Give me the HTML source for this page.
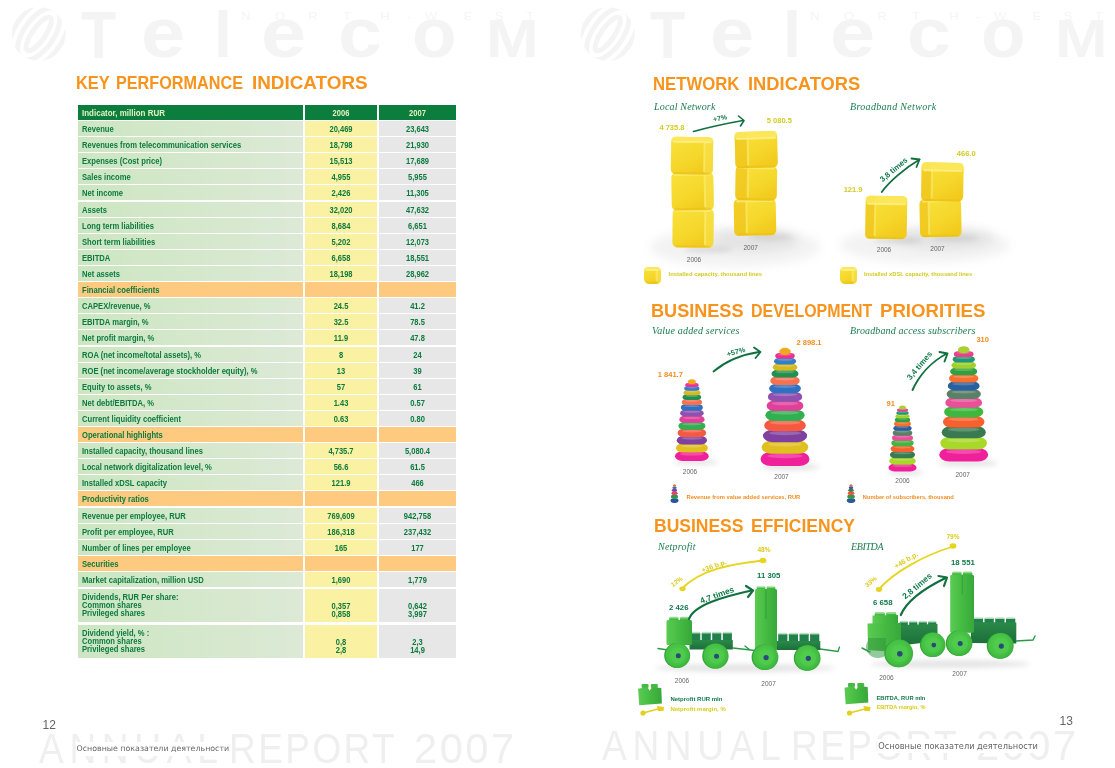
<!DOCTYPE html>
<html lang="en"><head><meta charset="utf-8"><title>Key Performance Indicators</title>
<style>
html,body{margin:0;padding:0;background:#fff;}
body{width:1115px;height:768px;position:relative;overflow:hidden;font-family:"Liberation Sans","DejaVu Sans",sans-serif;}
.abs{position:absolute;white-space:nowrap;line-height:1;}
.wm{position:absolute;color:#f4f4f4;font-weight:bold;white-space:nowrap;transform-origin:0 0;}
.wms{position:absolute;color:#f5f5f5;font-size:10.3px;line-height:10.3px;top:11.9px;white-space:nowrap;transform:scaleX(1.25);}
.ar{position:absolute;color:#efefef;font-size:43px;line-height:43px;white-space:nowrap;transform-origin:0 0;}
.ttl{position:absolute;color:#f7941d;font-weight:bold;font-size:19px;line-height:20px;white-space:nowrap;transform-origin:0 0;}
.sub{position:absolute;color:#1b7d4f;font-style:italic;font-size:10px;line-height:12px;white-space:nowrap;font-family:"Liberation Serif","DejaVu Serif",serif;transform-origin:0 0;}
.row{position:absolute;left:78px;width:378px;}
.c{position:absolute;top:0;bottom:0;font-weight:bold;font-size:8.2px;color:#0b7a3e;white-space:nowrap;}
.c1{left:0;width:225px;background:linear-gradient(90deg,#cde6c2 0%,#d5e8cc 55%,#dce9d6 100%);}
.c2{left:227px;width:72px;background:#fbf1a2;text-align:center;}
.c3{left:301px;width:77px;background:#e7e7e7;text-align:center;}
.c1 span{position:absolute;left:4px;transform:scaleX(0.93);transform-origin:0 50%;}
.hd .c1 span{transform:scaleX(0.975);}
.hd .c{background:#0b7d3c;color:#e6f3c4;}
.sec .c{background:#fdca80;}
.r .c span,.hd .c span,.sec .c span{top:3.5px;line-height:9px;}
.c2 span,.c3 span{position:absolute;left:0;right:0;transform:scaleX(0.92);}
.t .c span{line-height:8px;}
.lbl{position:absolute;white-space:nowrap;font-weight:bold;line-height:1;transform-origin:50% 50%;}
.yr{position:absolute;white-space:nowrap;color:#666;font-size:6.5px;line-height:7px;transform:translateX(-50%);}
.foot{position:absolute;white-space:nowrap;color:#666;font-size:7.6px;line-height:10px;font-family:"DejaVu Sans","Liberation Sans",sans-serif;background:#fff;padding:2px 1px;}
.pn{position:absolute;white-space:nowrap;color:#666;font-size:12px;line-height:12px;}
svg{position:absolute;left:0;top:0;overflow:visible;}
</style></head>
<body>
<div><span class="wm" style="left:81.4px;top:0.7px;font-size:67.3px;line-height:67.3px;transform:scaleX(0.855)">T</span><span class="wm" style="left:140.9px;top:-1.7px;font-size:70.2px;line-height:70.2px;transform:scaleX(1.132)">e</span><span class="wm" style="left:213.6px;top:3.3px;font-size:64.3px;line-height:64.3px;transform:scaleX(1.007)">l</span><span class="wm" style="left:261.4px;top:-1.7px;font-size:70.2px;line-height:70.2px;transform:scaleX(1.158)">e</span><span class="wm" style="left:337.7px;top:-1.7px;font-size:70.2px;line-height:70.2px;transform:scaleX(1.124)">c</span><span class="wm" style="left:412.2px;top:-1.7px;font-size:70.2px;line-height:70.2px;transform:scaleX(1.037)">o</span><span class="wm" style="left:485.5px;top:11.5px;font-size:54.5px;line-height:54.5px;transform:scaleX(1.160)">M</span></div>
<div><span class="wms" style="left:236px;width:20px;text-align:center">N</span><span class="wms" style="left:270px;width:20px;text-align:center">O</span><span class="wms" style="left:302.8px;width:20px;text-align:center">R</span><span class="wms" style="left:337px;width:20px;text-align:center">T</span><span class="wms" style="left:374.5px;width:20px;text-align:center">H</span><span class="wms" style="left:399px;width:20px;text-align:center">-</span><span class="wms" style="left:420.6px;width:20px;text-align:center">W</span><span class="wms" style="left:458.2px;width:20px;text-align:center">E</span><span class="wms" style="left:488.9px;width:20px;text-align:center">S</span><span class="wms" style="left:519.7px;width:20px;text-align:center">T</span></div>
<svg width="1115" height="768"><defs><clipPath id="lc0"><circle cx="0" cy="0" r="27"/></clipPath></defs><g transform="translate(38.7,34)" clip-path="url(#lc0)"><g transform="rotate(35)" fill="none" stroke="#f4f4f4" stroke-width="5"><ellipse rx="6.5" ry="20"/><ellipse rx="15" ry="30"/><ellipse rx="24" ry="41"/><ellipse rx="33" ry="53"/></g></g></svg>
<div><span class="wm" style="left:650.4px;top:0.7px;font-size:67.3px;line-height:67.3px;transform:scaleX(0.855)">T</span><span class="wm" style="left:709.9px;top:-1.7px;font-size:70.2px;line-height:70.2px;transform:scaleX(1.132)">e</span><span class="wm" style="left:782.6px;top:3.3px;font-size:64.3px;line-height:64.3px;transform:scaleX(1.007)">l</span><span class="wm" style="left:830.4px;top:-1.7px;font-size:70.2px;line-height:70.2px;transform:scaleX(1.158)">e</span><span class="wm" style="left:906.7px;top:-1.7px;font-size:70.2px;line-height:70.2px;transform:scaleX(1.124)">c</span><span class="wm" style="left:981.2px;top:-1.7px;font-size:70.2px;line-height:70.2px;transform:scaleX(1.037)">o</span><span class="wm" style="left:1054.5px;top:11.5px;font-size:54.5px;line-height:54.5px;transform:scaleX(1.160)">M</span></div>
<div><span class="wms" style="left:805px;width:20px;text-align:center">N</span><span class="wms" style="left:839px;width:20px;text-align:center">O</span><span class="wms" style="left:871.8px;width:20px;text-align:center">R</span><span class="wms" style="left:906px;width:20px;text-align:center">T</span><span class="wms" style="left:943.5px;width:20px;text-align:center">H</span><span class="wms" style="left:968px;width:20px;text-align:center">-</span><span class="wms" style="left:989.6px;width:20px;text-align:center">W</span><span class="wms" style="left:1027.2px;width:20px;text-align:center">E</span><span class="wms" style="left:1057.9px;width:20px;text-align:center">S</span><span class="wms" style="left:1088.7px;width:20px;text-align:center">T</span></div>
<svg width="1115" height="768"><defs><clipPath id="lc569"><circle cx="0" cy="0" r="27"/></clipPath></defs><g transform="translate(607.7,34)" clip-path="url(#lc569)"><g transform="rotate(35)" fill="none" stroke="#f4f4f4" stroke-width="5"><ellipse rx="6.5" ry="20"/><ellipse rx="15" ry="30"/><ellipse rx="24" ry="41"/><ellipse rx="33" ry="53"/></g></g></svg>
<div><span class="ar" style="left:39.0px;top:727.4px;letter-spacing:6.67px;transform:scaleX(0.86)">ANNUAL</span> <span class="ar" style="left:228.5px;top:727.4px;letter-spacing:2.85px;transform:scaleX(0.86)">REPORT</span> <span class="ar" style="left:413.6px;top:727.4px;letter-spacing:2.51px;transform:scaleX(0.97)">2007</span></div>
<div><span class="ar" style="left:601.7px;top:724.4px;letter-spacing:6.67px;transform:scaleX(0.86)">ANNUAL</span> <span class="ar" style="left:791.2px;top:724.4px;letter-spacing:2.85px;transform:scaleX(0.86)">REPORT</span> <span class="ar" style="left:976.3px;top:724.4px;letter-spacing:2.51px;transform:scaleX(0.97)">2007</span></div>
<div id="t1"><span class="ttl" style="left:76.0px;top:72.7px;transform:scaleX(0.865)">KEY</span> <span class="ttl" style="left:116.4px;top:72.7px;transform:scaleX(0.853)">PERFORMANCE</span> <span class="ttl" style="left:252.4px;top:72.7px;transform:scaleX(0.993)">INDICATORS</span></div>
<div class="row hd" style="top:105px;height:15px"><div class="c c1"><span>Indicator, million RUR</span></div><div class="c c2"><span>2006</span></div><div class="c c3"><span>2007</span></div></div>
<div class="row r" style="top:121px;height:15px"><div class="c c1"><span>Revenue</span></div><div class="c c2"><span>20,469</span></div><div class="c c3"><span>23,643</span></div></div>
<div class="row r" style="top:137px;height:15px"><div class="c c1"><span>Revenues from telecommunication services</span></div><div class="c c2"><span>18,798</span></div><div class="c c3"><span>21,930</span></div></div>
<div class="row r" style="top:153px;height:15px"><div class="c c1"><span>Expenses (Cost price)</span></div><div class="c c2"><span>15,513</span></div><div class="c c3"><span>17,689</span></div></div>
<div class="row r" style="top:169px;height:15px"><div class="c c1"><span>Sales income</span></div><div class="c c2"><span>4,955</span></div><div class="c c3"><span>5,955</span></div></div>
<div class="row r" style="top:185px;height:15px"><div class="c c1"><span>Net income</span></div><div class="c c2"><span>2,426</span></div><div class="c c3"><span>11,305</span></div></div>
<div class="row r" style="top:202px;height:15px"><div class="c c1"><span>Assets</span></div><div class="c c2"><span>32,020</span></div><div class="c c3"><span>47,632</span></div></div>
<div class="row r" style="top:218px;height:15px"><div class="c c1"><span>Long term liabilities</span></div><div class="c c2"><span>8,684</span></div><div class="c c3"><span>6,651</span></div></div>
<div class="row r" style="top:234px;height:15px"><div class="c c1"><span>Short term liabilities</span></div><div class="c c2"><span>5,202</span></div><div class="c c3"><span>12,073</span></div></div>
<div class="row r" style="top:250px;height:15px"><div class="c c1"><span>EBITDA</span></div><div class="c c2"><span>6,658</span></div><div class="c c3"><span>18,551</span></div></div>
<div class="row r" style="top:266px;height:15px"><div class="c c1"><span>Net assets</span></div><div class="c c2"><span>18,198</span></div><div class="c c3"><span>28,962</span></div></div>
<div class="row sec" style="top:282px;height:15px"><div class="c c1"><span>Financial coefficients</span></div><div class="c c2"><span></span></div><div class="c c3"><span></span></div></div>
<div class="row r" style="top:298px;height:15px"><div class="c c1"><span>CAPEX/revenue, %</span></div><div class="c c2"><span>24.5</span></div><div class="c c3"><span>41.2</span></div></div>
<div class="row r" style="top:314px;height:15px"><div class="c c1"><span>EBITDA margin, %</span></div><div class="c c2"><span>32.5</span></div><div class="c c3"><span>78.5</span></div></div>
<div class="row r" style="top:330px;height:15px"><div class="c c1"><span>Net profit margin, %</span></div><div class="c c2"><span>11.9</span></div><div class="c c3"><span>47.8</span></div></div>
<div class="row r" style="top:347px;height:15px"><div class="c c1"><span>ROA (net income/total assets), %</span></div><div class="c c2"><span>8</span></div><div class="c c3"><span>24</span></div></div>
<div class="row r" style="top:363px;height:15px"><div class="c c1"><span>ROE (net income/average stockholder equity), %</span></div><div class="c c2"><span>13</span></div><div class="c c3"><span>39</span></div></div>
<div class="row r" style="top:379px;height:15px"><div class="c c1"><span>Equity to assets, %</span></div><div class="c c2"><span>57</span></div><div class="c c3"><span>61</span></div></div>
<div class="row r" style="top:395px;height:15px"><div class="c c1"><span>Net debt/EBITDA, %</span></div><div class="c c2"><span>1.43</span></div><div class="c c3"><span>0.57</span></div></div>
<div class="row r" style="top:411px;height:15px"><div class="c c1"><span>Current liquidity coefficient</span></div><div class="c c2"><span>0.63</span></div><div class="c c3"><span>0.80</span></div></div>
<div class="row sec" style="top:427px;height:15px"><div class="c c1"><span>Operational highlights</span></div><div class="c c2"><span></span></div><div class="c c3"><span></span></div></div>
<div class="row r" style="top:443px;height:15px"><div class="c c1"><span>Installed capacity, thousand lines</span></div><div class="c c2"><span>4,735.7</span></div><div class="c c3"><span>5,080.4</span></div></div>
<div class="row r" style="top:459px;height:15px"><div class="c c1"><span>Local network digitalization level, %</span></div><div class="c c2"><span>56.6</span></div><div class="c c3"><span>61.5</span></div></div>
<div class="row r" style="top:475px;height:15px"><div class="c c1"><span>Installed xDSL capacity</span></div><div class="c c2"><span>121.9</span></div><div class="c c3"><span>466</span></div></div>
<div class="row sec" style="top:491px;height:15px"><div class="c c1"><span>Productivity ratios</span></div><div class="c c2"><span></span></div><div class="c c3"><span></span></div></div>
<div class="row r" style="top:508px;height:15px"><div class="c c1"><span>Revenue per employee, RUR</span></div><div class="c c2"><span>769,609</span></div><div class="c c3"><span>942,758</span></div></div>
<div class="row r" style="top:524px;height:15px"><div class="c c1"><span>Profit per employee, RUR</span></div><div class="c c2"><span>186,318</span></div><div class="c c3"><span>237,432</span></div></div>
<div class="row r" style="top:540px;height:15px"><div class="c c1"><span>Number of lines per employee</span></div><div class="c c2"><span>165</span></div><div class="c c3"><span>177</span></div></div>
<div class="row sec" style="top:556px;height:15px"><div class="c c1"><span>Securities</span></div><div class="c c2"><span></span></div><div class="c c3"><span></span></div></div>
<div class="row r" style="top:572px;height:15px"><div class="c c1"><span>Market capitalization, million USD</span></div><div class="c c2"><span>1,690</span></div><div class="c c3"><span>1,779</span></div></div>
<div class="row t" style="top:589px;height:33px"><div class="c c1"><span style="top:4.5px">Dividends, RUR Per share:<br>Common shares<br>Privileged shares</span></div><div class="c c2"><span style="top:5.5px"><br>0,357<br>0,858</span></div><div class="c c3"><span style="top:5.5px"><br>0,642<br>3,997</span></div></div>
<div class="row t" style="top:625px;height:33px"><div class="c c1"><span style="top:4.5px">Dividend yield, % :<br>Common shares<br>Privileged shares</span></div><div class="c c2"><span style="top:5.5px"><br>0,8<br>2,8</span></div><div class="c c3"><span style="top:5.5px"><br>2,3<br>14,9</span></div></div>
<div class="pn" style="left:42.5px;top:718.8px">12</div>
<div class="foot" id="f1" style="left:75.5px;top:741.5px;font-size:7.88px">Основные показатели деятельности</div>
<div class="pn" style="left:1059.5px;top:715px">13</div>
<div class="foot" id="f2" style="left:877.3px;top:739.4px;font-size:8.24px">Основные показатели деятельности</div>
<div id="t2"><span class="ttl" style="left:653.3px;top:74.3px;transform:scaleX(0.880)">NETWORK</span> <span class="ttl" style="left:748.3px;top:74.3px;transform:scaleX(0.964)">INDICATORS</span></div>
<div id="t3"><span class="ttl" style="left:651.3px;top:301px;transform:scaleX(0.952)">BUSINESS</span> <span class="ttl" style="left:750.5px;top:301px;transform:scaleX(0.839)">DEVELOPMENT</span> <span class="ttl" style="left:879.5px;top:301px;transform:scaleX(0.979)">PRIORITIES</span></div>
<div id="t4"><span class="ttl" style="left:654.2px;top:516px;transform:scaleX(0.921)">BUSINESS</span> <span class="ttl" style="left:750.5px;top:516px;transform:scaleX(0.920)">EFFICIENCY</span></div>
<div class="sub" id="s1" style="left:654px;top:101px;letter-spacing:0.18px">Local Network</div>
<div class="sub" id="s2" style="left:850px;top:101px;letter-spacing:0.32px">Broadband Network</div>
<div class="sub" id="s3" style="left:652px;top:325px;letter-spacing:0.18px">Value added services</div>
<div class="sub" id="s4" style="left:850px;top:325px;letter-spacing:0.13px">Broadband access subscribers</div>
<div class="sub" id="s5" style="left:658px;top:540.5px;letter-spacing:0.22px">Netprofit</div>
<div class="sub" id="s6" style="left:851px;top:541px;letter-spacing:-0.38px">EBITDA</div>
<svg width="1115" height="768" viewBox="0 0 1115 768">
<defs>
<filter id="bl" x="-30%" y="-60%" width="160%" height="220%"><feGaussianBlur stdDeviation="5"/></filter>
<filter id="bl2" x="-30%" y="-60%" width="160%" height="220%"><feGaussianBlur stdDeviation="2.5"/></filter>
<linearGradient id="cy" x1="0" y1="0" x2="0.6" y2="1"><stop offset="0" stop-color="#f9e13c"/><stop offset="0.6" stop-color="#f6d82c"/><stop offset="1" stop-color="#f2cb1e"/></linearGradient>
<linearGradient id="cyt" x1="0" y1="0" x2="0" y2="1"><stop offset="0" stop-color="#fbe968"/><stop offset="1" stop-color="#f4d631"/></linearGradient>
<linearGradient id="gb" x1="0" y1="0" x2="1" y2="0"><stop offset="0" stop-color="#5ccb52"/><stop offset="0.5" stop-color="#45bb42"/><stop offset="1" stop-color="#37a73a"/></linearGradient>
<linearGradient id="gd" x1="0" y1="0" x2="0" y2="1"><stop offset="0" stop-color="#2a8a48"/><stop offset="1" stop-color="#1c6e3a"/></linearGradient>
<radialGradient id="wh" cx="0.45" cy="0.45" r="0.6"><stop offset="0" stop-color="#58d050"/><stop offset="0.7" stop-color="#44c044"/><stop offset="1" stop-color="#37ac3a"/></radialGradient>
</defs>
<ellipse cx="735" cy="247" rx="85" ry="20" fill="#8a8a8a" opacity="0.1" filter="url(#bl)"/>
<ellipse cx="755" cy="240" rx="45" ry="12" fill="#8a8a8a" opacity="0.13" filter="url(#bl)"/>
<ellipse cx="708" cy="249.5" rx="24" ry="3.5" fill="#8a8a8a" opacity="0.2" filter="url(#bl2)"/>
<ellipse cx="770" cy="237" rx="22" ry="3.5" fill="#8a8a8a" opacity="0.2" filter="url(#bl2)"/>
<g transform="translate(672.5,208.6) rotate(0.5 20.5 19.5)"><rect x="0" y="0" width="41" height="39" rx="5" ry="5" fill="url(#cy)"/><path d="M32.8 1 L37 0.5 Q41 0.5 41 4.5 L41 34.5 Q41 39 37 39 L32.8 38.5 Z" fill="#f9e34c" opacity="0.6"/><rect x="31.6" y="2.5" width="2" height="34" rx="1" fill="#fcec74" opacity="0.7"/><rect x="2.5" y="0.6" width="36" height="2.6" rx="1.3" fill="#fcee80" opacity="0.7"/><rect x="2.5" y="36.8" width="36" height="2" rx="1" fill="#e6b80e" opacity="0.4"/></g>
<g transform="translate(671.5,172.5) rotate(-1 21.0 18.85)"><rect x="0" y="0" width="42" height="37.7" rx="5" ry="5" fill="url(#cy)"/><path d="M33.6 1 L38 0.5 Q42 0.5 42 4.5 L42 33.2 Q42 37.7 38 37.7 L33.6 37.2 Z" fill="#f9e34c" opacity="0.6"/><rect x="32.4" y="2.5" width="2" height="32.7" rx="1" fill="#fcec74" opacity="0.7"/><rect x="2.5" y="0.6" width="37" height="2.6" rx="1.3" fill="#fcee80" opacity="0.7"/><rect x="2.5" y="35.5" width="37" height="2" rx="1" fill="#e6b80e" opacity="0.4"/></g>
<g transform="translate(671,137) rotate(1 21.0 18.75)"><rect x="0" y="0" width="42" height="37.5" rx="5" ry="5" fill="url(#cy)"/><path d="M33.6 1 L38 0.5 Q42 0.5 42 4.5 L42 33.0 Q42 37.5 38 37.5 L33.6 37.0 Z" fill="#f9e34c" opacity="0.6"/><rect x="32.4" y="2.5" width="2" height="32.5" rx="1" fill="#fcec74" opacity="0.7"/><path d="M4 0 L38 0 Q42 0 42 4 L41 5 L1 5 L0 4 Q0 0 4 0 Z" fill="#fbe95e" opacity="0.85"/><rect x="1.5" y="4" width="39" height="2" rx="1" fill="#fdf08c" opacity="0.8"/><rect x="2.5" y="35.3" width="37" height="2" rx="1" fill="#e6b80e" opacity="0.4"/></g>
<g transform="translate(734,199) rotate(-1 21.0 18.25)"><rect x="0" y="0" width="42" height="36.5" rx="5" ry="5" fill="url(#cy)"/><path d="M12.6 1 L4 0.5 Q0 0.5 0 4.5 L0 32.0 Q0 36.5 4 36.5 L12.6 36.0 Z" fill="#eec21a" opacity="0.6"/><rect x="11.6" y="2.5" width="2" height="31.5" rx="1" fill="#fbe868" opacity="0.75"/><rect x="2.5" y="0.6" width="37" height="2.6" rx="1.3" fill="#fcee80" opacity="0.7"/><rect x="2.5" y="34.3" width="37" height="2" rx="1" fill="#e6b80e" opacity="0.4"/></g>
<g transform="translate(735.5,166) rotate(1 20.75 17.25)"><rect x="0" y="0" width="41.5" height="34.5" rx="5" ry="5" fill="url(#cy)"/><path d="M12.4 1 L4 0.5 Q0 0.5 0 4.5 L0 30.0 Q0 34.5 4 34.5 L12.4 34.0 Z" fill="#eec21a" opacity="0.6"/><rect x="11.4" y="2.5" width="2" height="29.5" rx="1" fill="#fbe868" opacity="0.75"/><rect x="2.5" y="0.6" width="36.5" height="2.6" rx="1.3" fill="#fcee80" opacity="0.7"/><rect x="2.5" y="32.3" width="36.5" height="2" rx="1" fill="#e6b80e" opacity="0.4"/></g>
<g transform="translate(735,131.5) rotate(-1.5 21.25 18.25)"><rect x="0" y="0" width="42.5" height="36.5" rx="5" ry="5" fill="url(#cy)"/><path d="M12.8 1 L4 0.5 Q0 0.5 0 4.5 L0 32.0 Q0 36.5 4 36.5 L12.8 36.0 Z" fill="#eec21a" opacity="0.6"/><rect x="11.8" y="2.5" width="2" height="31.5" rx="1" fill="#fbe868" opacity="0.75"/><path d="M4 0 L38.5 0 Q42.5 0 42.5 4 L41.5 7 L1 7 L0 4 Q0 0 4 0 Z" fill="#fbe95e" opacity="0.85"/><rect x="1.5" y="6" width="39.5" height="2" rx="1" fill="#fdf08c" opacity="0.8"/><rect x="2.5" y="34.3" width="37.5" height="2" rx="1" fill="#e6b80e" opacity="0.4"/></g>
<path d="M693.5 131.5 C708 127.5 726 123.5 743 120.5" fill="none" stroke="#10703f" stroke-width="1.6" stroke-linecap="round"/>
<path d="M738.5 116 L744 120.5 L740.5 126" fill="none" stroke="#10703f" stroke-width="1.6" stroke-linecap="round" stroke-linejoin="round"/>
<g transform="translate(644,267) rotate(0 8.5 8.5)"><rect x="0" y="0" width="17" height="17" rx="5" ry="5" fill="url(#cy)"/><path d="M12.8 1 L13 0.5 Q17 0.5 17 4.5 L17 12.5 Q17 17 13 17 L12.8 16.5 Z" fill="#f9e34c" opacity="0.6"/><rect x="11.6" y="2.5" width="2" height="12" rx="1" fill="#fcec74" opacity="0.7"/><path d="M4 0 L13 0 Q17 0 17 4 L16 3 L1 3 L0 4 Q0 0 4 0 Z" fill="#fbe95e" opacity="0.85"/><rect x="1.5" y="2" width="14" height="2" rx="1" fill="#fdf08c" opacity="0.8"/><rect x="2.5" y="14.8" width="12" height="2" rx="1" fill="#e6b80e" opacity="0.4"/></g>
<ellipse cx="925" cy="245" rx="85" ry="18" fill="#8a8a8a" opacity="0.1" filter="url(#bl)"/>
<ellipse cx="945" cy="238" rx="50" ry="12" fill="#8a8a8a" opacity="0.13" filter="url(#bl)"/>
<ellipse cx="898" cy="240.5" rx="24" ry="3.5" fill="#8a8a8a" opacity="0.2" filter="url(#bl2)"/>
<ellipse cx="955" cy="238" rx="24" ry="3.5" fill="#8a8a8a" opacity="0.2" filter="url(#bl2)"/>
<g transform="translate(865.5,196) rotate(1 20.75 21.5)"><rect x="0" y="0" width="41.5" height="43" rx="5" ry="5" fill="url(#cy)"/><path d="M9.5 1 L4 0.5 Q0 0.5 0 4.5 L0 38.5 Q0 43 4 43 L9.5 42.5 Z" fill="#eec21a" opacity="0.6"/><rect x="8.5" y="2.5" width="2" height="38" rx="1" fill="#fbe868" opacity="0.75"/><path d="M4 0 L37.5 0 Q41.5 0 41.5 4 L40.5 8 L1 8 L0 4 Q0 0 4 0 Z" fill="#fbe95e" opacity="0.85"/><rect x="1.5" y="7" width="38.5" height="2" rx="1" fill="#fdf08c" opacity="0.8"/><rect x="2.5" y="40.8" width="36.5" height="2" rx="1" fill="#e6b80e" opacity="0.4"/></g>
<g transform="translate(919.8,199) rotate(-1 20.75 19.0)"><rect x="0" y="0" width="41.5" height="38" rx="5" ry="5" fill="url(#cy)"/><path d="M9.1 1 L4 0.5 Q0 0.5 0 4.5 L0 33.5 Q0 38 4 38 L9.1 37.5 Z" fill="#eec21a" opacity="0.6"/><rect x="8.1" y="2.5" width="2" height="33" rx="1" fill="#fbe868" opacity="0.75"/><rect x="2.5" y="0.6" width="36.5" height="2.6" rx="1.3" fill="#fcee80" opacity="0.7"/><rect x="2.5" y="35.8" width="36.5" height="2" rx="1" fill="#e6b80e" opacity="0.4"/></g>
<g transform="translate(921.4,162.6) rotate(1 21.0 19.4)"><rect x="0" y="0" width="42" height="38.8" rx="5" ry="5" fill="url(#cy)"/><path d="M10.5 1 L4 0.5 Q0 0.5 0 4.5 L0 34.3 Q0 38.8 4 38.8 L10.5 38.3 Z" fill="#eec21a" opacity="0.6"/><rect x="9.5" y="2.5" width="2" height="33.8" rx="1" fill="#fbe868" opacity="0.75"/><path d="M4 0 L38 0 Q42 0 42 4 L41 8 L1 8 L0 4 Q0 0 4 0 Z" fill="#fbe95e" opacity="0.85"/><rect x="1.5" y="7" width="39" height="2" rx="1" fill="#fdf08c" opacity="0.8"/><rect x="2.5" y="36.599999999999994" width="37" height="2" rx="1" fill="#e6b80e" opacity="0.4"/></g>
<path d="M881.8 192 C889 182 905 168 919.5 159.5" fill="none" stroke="#10703f" stroke-width="1.8" stroke-linecap="round"/>
<path d="M911.5 158.5 L919.5 159.5 L916.5 167" fill="none" stroke="#10703f" stroke-width="1.8" stroke-linecap="round" stroke-linejoin="round"/>
<g transform="translate(840,267) rotate(0 8.5 8.5)"><rect x="0" y="0" width="17" height="17" rx="5" ry="5" fill="url(#cy)"/><path d="M12.8 1 L13 0.5 Q17 0.5 17 4.5 L17 12.5 Q17 17 13 17 L12.8 16.5 Z" fill="#f9e34c" opacity="0.6"/><rect x="11.6" y="2.5" width="2" height="12" rx="1" fill="#fcec74" opacity="0.7"/><path d="M4 0 L13 0 Q17 0 17 4 L16 3 L1 3 L0 4 Q0 0 4 0 Z" fill="#fbe95e" opacity="0.85"/><rect x="1.5" y="2" width="14" height="2" rx="1" fill="#fdf08c" opacity="0.8"/><rect x="2.5" y="14.8" width="12" height="2" rx="1" fill="#e6b80e" opacity="0.4"/></g>
<ellipse cx="696" cy="462" rx="22" ry="3" fill="#8a8a8a" opacity="0.22" filter="url(#bl2)"/>
<ellipse cx="790" cy="467" rx="30" ry="3.5" fill="#8a8a8a" opacity="0.22" filter="url(#bl2)"/>
<rect x="675.0" y="451.4" width="33.7" height="9.6" rx="7.2" ry="4.8" fill="#f0209a"/>
<ellipse cx="691.9" cy="454.1" rx="12.1" ry="1.5" fill="#fff" opacity="0.20"/>
<rect x="675.9" y="443.5" width="32.0" height="9.1" rx="6.8" ry="4.6" fill="#e0c020"/>
<ellipse cx="691.9" cy="446.0" rx="11.5" ry="1.5" fill="#fff" opacity="0.20"/>
<rect x="676.7" y="435.9" width="30.3" height="8.7" rx="6.5" ry="4.3" fill="#8040a0"/>
<ellipse cx="691.9" cy="438.3" rx="10.9" ry="1.4" fill="#fff" opacity="0.20"/>
<rect x="677.6" y="428.8" width="28.6" height="8.2" rx="6.1" ry="4.1" fill="#f55a40"/>
<ellipse cx="691.9" cy="431.1" rx="10.3" ry="1.3" fill="#fff" opacity="0.20"/>
<rect x="678.4" y="422.1" width="27.0" height="7.7" rx="5.8" ry="3.9" fill="#30b050"/>
<ellipse cx="691.9" cy="424.2" rx="9.7" ry="1.2" fill="#fff" opacity="0.20"/>
<rect x="679.3" y="415.7" width="25.3" height="7.3" rx="5.5" ry="3.6" fill="#e0409a"/>
<ellipse cx="691.9" cy="417.8" rx="9.1" ry="1.2" fill="#fff" opacity="0.20"/>
<rect x="680.1" y="409.8" width="23.6" height="6.8" rx="5.1" ry="3.4" fill="#9050b0"/>
<ellipse cx="691.9" cy="411.7" rx="8.5" ry="1.1" fill="#fff" opacity="0.20"/>
<rect x="680.9" y="404.3" width="21.9" height="6.3" rx="4.8" ry="3.2" fill="#3070c0"/>
<ellipse cx="691.9" cy="406.1" rx="7.9" ry="1.0" fill="#fff" opacity="0.20"/>
<rect x="681.8" y="399.2" width="20.2" height="5.9" rx="4.4" ry="2.9" fill="#f87050"/>
<ellipse cx="691.9" cy="400.8" rx="7.3" ry="0.9" fill="#fff" opacity="0.20"/>
<rect x="682.6" y="394.5" width="18.5" height="5.4" rx="4.1" ry="2.7" fill="#209050"/>
<ellipse cx="691.9" cy="396.0" rx="6.7" ry="0.9" fill="#fff" opacity="0.20"/>
<rect x="683.5" y="390.2" width="16.9" height="5.0" rx="3.7" ry="2.5" fill="#d8b820"/>
<ellipse cx="691.9" cy="391.6" rx="6.1" ry="0.8" fill="#fff" opacity="0.20"/>
<rect x="684.3" y="386.3" width="15.2" height="4.5" rx="3.4" ry="2.2" fill="#3080c8"/>
<ellipse cx="691.9" cy="387.6" rx="5.5" ry="0.7" fill="#fff" opacity="0.20"/>
<rect x="685.2" y="382.9" width="13.5" height="4.0" rx="3.0" ry="2.0" fill="#f03090"/>
<ellipse cx="691.9" cy="384.0" rx="4.9" ry="0.6" fill="#fff" opacity="0.20"/>
<ellipse cx="691.9" cy="381.8" rx="4.0" ry="2.5" fill="#f0a820"/>
<rect x="760.5" y="452.1" width="49.0" height="13.9" rx="10.4" ry="6.9" fill="#f0209a"/>
<ellipse cx="785.0" cy="456.0" rx="17.6" ry="2.2" fill="#fff" opacity="0.20"/>
<rect x="761.7" y="440.6" width="46.5" height="13.2" rx="9.9" ry="6.6" fill="#e0c020"/>
<ellipse cx="785.0" cy="444.3" rx="16.8" ry="2.1" fill="#fff" opacity="0.20"/>
<rect x="763.0" y="429.7" width="44.1" height="12.5" rx="9.4" ry="6.3" fill="#8040a0"/>
<ellipse cx="785.0" cy="433.2" rx="15.9" ry="2.0" fill="#fff" opacity="0.20"/>
<rect x="764.2" y="419.4" width="41.6" height="11.9" rx="8.9" ry="5.9" fill="#f55a40"/>
<ellipse cx="785.0" cy="422.7" rx="15.0" ry="1.9" fill="#fff" opacity="0.20"/>
<rect x="765.4" y="409.7" width="39.2" height="11.2" rx="8.4" ry="5.6" fill="#30b050"/>
<ellipse cx="785.0" cy="412.8" rx="14.1" ry="1.8" fill="#fff" opacity="0.20"/>
<rect x="766.6" y="400.5" width="36.8" height="10.5" rx="7.9" ry="5.3" fill="#e0409a"/>
<ellipse cx="785.0" cy="403.5" rx="13.2" ry="1.7" fill="#fff" opacity="0.20"/>
<rect x="767.9" y="391.9" width="34.3" height="9.9" rx="7.4" ry="4.9" fill="#9050b0"/>
<ellipse cx="785.0" cy="394.7" rx="12.3" ry="1.6" fill="#fff" opacity="0.20"/>
<rect x="769.1" y="384.0" width="31.8" height="9.2" rx="6.9" ry="4.6" fill="#3070c0"/>
<ellipse cx="785.0" cy="386.5" rx="11.5" ry="1.5" fill="#fff" opacity="0.20"/>
<rect x="770.3" y="376.6" width="29.4" height="8.5" rx="6.4" ry="4.3" fill="#f87050"/>
<ellipse cx="785.0" cy="379.0" rx="10.6" ry="1.4" fill="#fff" opacity="0.20"/>
<rect x="771.5" y="369.8" width="27.0" height="7.8" rx="5.9" ry="3.9" fill="#209050"/>
<ellipse cx="785.0" cy="372.0" rx="9.7" ry="1.3" fill="#fff" opacity="0.20"/>
<rect x="772.8" y="363.6" width="24.5" height="7.2" rx="5.4" ry="3.6" fill="#d8b820"/>
<ellipse cx="785.0" cy="365.6" rx="8.8" ry="1.1" fill="#fff" opacity="0.20"/>
<rect x="774.0" y="358.0" width="22.1" height="6.5" rx="4.9" ry="3.2" fill="#3080c8"/>
<ellipse cx="785.0" cy="359.8" rx="7.9" ry="1.0" fill="#fff" opacity="0.20"/>
<rect x="775.2" y="352.9" width="19.6" height="5.8" rx="4.4" ry="2.9" fill="#f03090"/>
<ellipse cx="785.0" cy="354.6" rx="7.1" ry="0.9" fill="#fff" opacity="0.20"/>
<ellipse cx="785.0" cy="351.5" rx="5.8" ry="3.7" fill="#f0a820"/>
<path d="M713.5 371.5 C726 361 742 354.5 759 352" fill="none" stroke="#10703f" stroke-width="1.8" stroke-linecap="round"/>
<path d="M754 347.5 L760.5 352 L755.5 358" fill="none" stroke="#10703f" stroke-width="1.8" stroke-linecap="round" stroke-linejoin="round"/>
<rect x="670.5" y="498.2" width="8.0" height="4.8" rx="3.6" ry="2.4" fill="#3050a8"/>
<rect x="671.0" y="494.5" width="7.0" height="4.3" rx="3.2" ry="2.1" fill="#2a9a4a"/>
<rect x="671.5" y="491.3" width="6.1" height="3.7" rx="2.8" ry="1.9" fill="#e8406a"/>
<rect x="671.9" y="488.6" width="5.1" height="3.2" rx="2.4" ry="1.6" fill="#8040a0"/>
<rect x="672.4" y="486.4" width="4.2" height="2.6" rx="1.9" ry="1.3" fill="#3070c0"/>
<rect x="672.9" y="484.7" width="3.2" height="2.0" rx="1.5" ry="1.0" fill="#f06a30"/>
<ellipse cx="674.5" cy="484.6" rx="0.9" ry="0.6" fill="#f0a820"/>
<ellipse cx="905" cy="472.5" rx="18" ry="3" fill="#8a8a8a" opacity="0.22" filter="url(#bl2)"/>
<ellipse cx="968" cy="463" rx="30" ry="3.5" fill="#8a8a8a" opacity="0.22" filter="url(#bl2)"/>
<rect x="888.5" y="463.8" width="28.0" height="7.7" rx="5.8" ry="3.9" fill="#f0209a"/>
<ellipse cx="902.5" cy="465.9" rx="10.1" ry="1.2" fill="#fff" opacity="0.20"/>
<rect x="889.2" y="457.3" width="26.6" height="7.4" rx="5.5" ry="3.7" fill="#a8d828"/>
<ellipse cx="902.5" cy="459.4" rx="9.6" ry="1.2" fill="#fff" opacity="0.20"/>
<rect x="889.9" y="451.2" width="25.2" height="7.0" rx="5.2" ry="3.5" fill="#3a7a50"/>
<ellipse cx="902.5" cy="453.2" rx="9.1" ry="1.1" fill="#fff" opacity="0.20"/>
<rect x="890.6" y="445.5" width="23.8" height="6.6" rx="5.0" ry="3.3" fill="#f86030"/>
<ellipse cx="902.5" cy="447.3" rx="8.6" ry="1.1" fill="#fff" opacity="0.20"/>
<rect x="891.3" y="440.0" width="22.4" height="6.2" rx="4.7" ry="3.1" fill="#40b840"/>
<ellipse cx="902.5" cy="441.8" rx="8.1" ry="1.0" fill="#fff" opacity="0.20"/>
<rect x="892.0" y="434.9" width="21.0" height="5.9" rx="4.4" ry="2.9" fill="#e8509a"/>
<ellipse cx="902.5" cy="436.6" rx="7.6" ry="0.9" fill="#fff" opacity="0.20"/>
<rect x="892.7" y="430.2" width="19.6" height="5.5" rx="4.1" ry="2.8" fill="#5a8068"/>
<ellipse cx="902.5" cy="431.7" rx="7.1" ry="0.9" fill="#fff" opacity="0.20"/>
<rect x="893.4" y="425.7" width="18.2" height="5.1" rx="3.8" ry="2.6" fill="#2860a0"/>
<ellipse cx="902.5" cy="427.1" rx="6.6" ry="0.8" fill="#fff" opacity="0.20"/>
<rect x="894.1" y="421.6" width="16.8" height="4.8" rx="3.6" ry="2.4" fill="#f87030"/>
<ellipse cx="902.5" cy="422.9" rx="6.0" ry="0.8" fill="#fff" opacity="0.20"/>
<rect x="894.8" y="417.8" width="15.4" height="4.4" rx="3.3" ry="2.2" fill="#30a040"/>
<ellipse cx="902.5" cy="419.0" rx="5.5" ry="0.7" fill="#fff" opacity="0.20"/>
<rect x="895.5" y="414.3" width="14.0" height="4.0" rx="3.0" ry="2.0" fill="#a0d030"/>
<ellipse cx="902.5" cy="415.4" rx="5.0" ry="0.6" fill="#fff" opacity="0.20"/>
<rect x="896.2" y="411.2" width="12.6" height="3.6" rx="2.7" ry="1.8" fill="#209878"/>
<ellipse cx="902.5" cy="412.2" rx="4.5" ry="0.6" fill="#fff" opacity="0.20"/>
<rect x="896.9" y="408.4" width="11.2" height="3.3" rx="2.4" ry="1.6" fill="#e8408a"/>
<ellipse cx="902.5" cy="409.3" rx="4.0" ry="0.5" fill="#fff" opacity="0.20"/>
<ellipse cx="902.5" cy="407.5" rx="3.3" ry="2.0" fill="#a8d030"/>
<rect x="939.2" y="447.9" width="49.0" height="13.5" rx="10.1" ry="6.8" fill="#f0209a"/>
<ellipse cx="963.7" cy="451.7" rx="17.6" ry="2.2" fill="#fff" opacity="0.20"/>
<rect x="940.4" y="436.7" width="46.5" height="12.9" rx="9.6" ry="6.4" fill="#a8d828"/>
<ellipse cx="963.7" cy="440.3" rx="16.8" ry="2.1" fill="#fff" opacity="0.20"/>
<rect x="941.7" y="426.1" width="44.1" height="12.2" rx="9.2" ry="6.1" fill="#3a7a50"/>
<ellipse cx="963.7" cy="429.5" rx="15.9" ry="2.0" fill="#fff" opacity="0.20"/>
<rect x="942.9" y="416.0" width="41.6" height="11.6" rx="8.7" ry="5.8" fill="#f86030"/>
<ellipse cx="963.7" cy="419.2" rx="15.0" ry="1.8" fill="#fff" opacity="0.20"/>
<rect x="944.1" y="406.5" width="39.2" height="10.9" rx="8.2" ry="5.4" fill="#40b840"/>
<ellipse cx="963.7" cy="409.6" rx="14.1" ry="1.7" fill="#fff" opacity="0.20"/>
<rect x="945.3" y="397.6" width="36.8" height="10.2" rx="7.7" ry="5.1" fill="#e8509a"/>
<ellipse cx="963.7" cy="400.5" rx="13.2" ry="1.6" fill="#fff" opacity="0.20"/>
<rect x="946.6" y="389.3" width="34.3" height="9.6" rx="7.2" ry="4.8" fill="#5a8068"/>
<ellipse cx="963.7" cy="392.0" rx="12.3" ry="1.5" fill="#fff" opacity="0.20"/>
<rect x="947.8" y="381.5" width="31.8" height="8.9" rx="6.7" ry="4.5" fill="#2860a0"/>
<ellipse cx="963.7" cy="384.0" rx="11.5" ry="1.4" fill="#fff" opacity="0.20"/>
<rect x="949.0" y="374.3" width="29.4" height="8.3" rx="6.2" ry="4.1" fill="#f87030"/>
<ellipse cx="963.7" cy="376.7" rx="10.6" ry="1.3" fill="#fff" opacity="0.20"/>
<rect x="950.2" y="367.7" width="27.0" height="7.6" rx="5.7" ry="3.8" fill="#30a040"/>
<ellipse cx="963.7" cy="369.9" rx="9.7" ry="1.2" fill="#fff" opacity="0.20"/>
<rect x="951.5" y="361.7" width="24.5" height="7.0" rx="5.2" ry="3.5" fill="#a0d030"/>
<ellipse cx="963.7" cy="363.6" rx="8.8" ry="1.1" fill="#fff" opacity="0.20"/>
<rect x="952.7" y="356.2" width="22.1" height="6.3" rx="4.7" ry="3.2" fill="#209878"/>
<ellipse cx="963.7" cy="358.0" rx="7.9" ry="1.0" fill="#fff" opacity="0.20"/>
<rect x="953.9" y="351.3" width="19.6" height="5.7" rx="4.3" ry="2.8" fill="#e8408a"/>
<ellipse cx="963.7" cy="352.9" rx="7.1" ry="0.9" fill="#fff" opacity="0.20"/>
<ellipse cx="963.7" cy="349.9" rx="5.8" ry="3.6" fill="#a8d030"/>
<path d="M912.5 390 C919 376 931 362 946 354" fill="none" stroke="#10703f" stroke-width="1.9" stroke-linecap="round"/>
<path d="M939.5 352 L947.5 353.5 L944.5 361.5" fill="none" stroke="#10703f" stroke-width="1.9" stroke-linecap="round" stroke-linejoin="round"/>
<rect x="846.8" y="498.2" width="8.5" height="4.8" rx="3.6" ry="2.4" fill="#2a5a9a"/>
<rect x="847.3" y="494.5" width="7.5" height="4.3" rx="3.2" ry="2.1" fill="#2f9a40"/>
<rect x="847.8" y="491.3" width="6.5" height="3.7" rx="2.8" ry="1.9" fill="#f0503a"/>
<rect x="848.3" y="488.6" width="5.4" height="3.2" rx="2.4" ry="1.6" fill="#3a7a50"/>
<rect x="848.8" y="486.4" width="4.4" height="2.6" rx="1.9" ry="1.3" fill="#2a5a9a"/>
<rect x="849.3" y="484.7" width="3.4" height="2.0" rx="1.5" ry="1.0" fill="#e8408a"/>
<ellipse cx="851.0" cy="484.6" rx="1.0" ry="0.6" fill="#a8d030"/>
<ellipse cx="745" cy="668" rx="90" ry="4" fill="#8a8a8a" opacity="0.22" filter="url(#bl2)"/>
<path d="M658 648.5 L668 650 M733 648 L755 650.5 M745 646 L750 650 M820 649 L838 651.5 L839.5 647" fill="none" stroke="#2a9a48" stroke-width="1.3" stroke-linecap="round"/>
<rect x="691.2" y="632.5" width="9.1" height="9" rx="1" fill="#22804a"/>
<rect x="691.5" y="631.8" width="8.5" height="1.8" rx="0.9" fill="#bfe3c8" opacity="0.9"/>
<rect x="701.7" y="632.5" width="9.1" height="9" rx="1" fill="#22804a"/>
<rect x="702.0" y="631.8" width="8.5" height="1.8" rx="0.9" fill="#bfe3c8" opacity="0.9"/>
<rect x="712.2" y="632.5" width="9.1" height="9" rx="1" fill="#22804a"/>
<rect x="712.5" y="631.8" width="8.5" height="1.8" rx="0.9" fill="#bfe3c8" opacity="0.9"/>
<rect x="722.8" y="632.5" width="9.1" height="9" rx="1" fill="#22804a"/>
<rect x="723.1" y="631.8" width="8.5" height="1.8" rx="0.9" fill="#bfe3c8" opacity="0.9"/>
<rect x="689.5" y="640" width="43.3" height="9.5" fill="url(#gd)"/>
<rect x="669.2" y="617.5" width="9.3" height="4" rx="1" fill="#43b943"/>
<rect x="669.5" y="616.8" width="8.8" height="1.8" rx="0.9" fill="#8fdc88" opacity="0.9"/>
<rect x="680.0" y="617.5" width="9.3" height="4" rx="1" fill="#43b943"/>
<rect x="680.2" y="616.8" width="8.8" height="1.8" rx="0.9" fill="#8fdc88" opacity="0.9"/>
<rect x="666.5" y="620" width="25.5" height="25" rx="1.5" fill="url(#gb)"/>
<rect x="778.2" y="633.5" width="9.2" height="9" rx="1" fill="#22804a"/>
<rect x="778.5" y="632.8" width="8.6" height="1.8" rx="0.9" fill="#bfe3c8" opacity="0.9"/>
<rect x="788.8" y="633.5" width="9.2" height="9" rx="1" fill="#22804a"/>
<rect x="789.1" y="632.8" width="8.6" height="1.8" rx="0.9" fill="#bfe3c8" opacity="0.9"/>
<rect x="799.5" y="633.5" width="9.2" height="9" rx="1" fill="#22804a"/>
<rect x="799.8" y="632.8" width="8.6" height="1.8" rx="0.9" fill="#bfe3c8" opacity="0.9"/>
<rect x="810.1" y="633.5" width="9.2" height="9" rx="1" fill="#22804a"/>
<rect x="810.4" y="632.8" width="8.6" height="1.8" rx="0.9" fill="#bfe3c8" opacity="0.9"/>
<rect x="777" y="641" width="43.3" height="9" fill="url(#gd)"/>
<rect x="756.7" y="586.5" width="8.6" height="4" rx="1" fill="#43b943"/>
<rect x="757.0" y="585.8" width="8.0" height="1.8" rx="0.9" fill="#c8ecc0" opacity="0.9"/>
<rect x="766.7" y="586.5" width="8.6" height="4" rx="1" fill="#43b943"/>
<rect x="767.0" y="585.8" width="8.0" height="1.8" rx="0.9" fill="#c8ecc0" opacity="0.9"/>
<rect x="755" y="589" width="22" height="61.5" rx="1.5" fill="url(#gb)"/>
<rect x="765.4" y="589" width="1.2" height="30" fill="#2c9434" opacity="0.6"/>
<circle cx="676.5999999999999" cy="655.5" r="12.4" fill="#30a334"/>
<circle cx="677.8" cy="655.5" r="12.4" fill="url(#wh)"/>
<circle cx="678.0999999999999" cy="655.5" r="7.7" fill="#50cc4c" opacity="0.75"/>
<circle cx="678.3" cy="655.8" r="2.5" fill="#2a4a78"/>
<circle cx="714.8" cy="656" r="12.6" fill="#30a334"/>
<circle cx="716" cy="656" r="12.6" fill="url(#wh)"/>
<circle cx="716.3" cy="656" r="7.8" fill="#50cc4c" opacity="0.75"/>
<circle cx="716.5" cy="656.3" r="2.5" fill="#2a4a78"/>
<circle cx="764.4" cy="657.3" r="12.8" fill="#30a334"/>
<circle cx="765.6" cy="657.3" r="12.8" fill="url(#wh)"/>
<circle cx="765.9" cy="657.3" r="7.9" fill="#50cc4c" opacity="0.75"/>
<circle cx="766.1" cy="657.5999999999999" r="2.6" fill="#2a4a78"/>
<circle cx="806.5999999999999" cy="658" r="12.8" fill="#30a334"/>
<circle cx="807.8" cy="658" r="12.8" fill="url(#wh)"/>
<circle cx="808.0999999999999" cy="658" r="7.9" fill="#50cc4c" opacity="0.75"/>
<circle cx="808.3" cy="658.3" r="2.6" fill="#2a4a78"/>
<path d="M689 619 C694 605 722 597 751.5 590.5" fill="none" stroke="#10703f" stroke-width="2.2" stroke-linecap="round"/>
<path d="M746 586 L753 590.5 L748 597" fill="none" stroke="#10703f" stroke-width="2.2" stroke-linecap="round" stroke-linejoin="round"/>
<path d="M682 588.5 C700 570 730 564 763 560.5" fill="none" stroke="#e6d520" stroke-width="1.8" stroke-linecap="round"/>
<ellipse cx="682.5" cy="588.8" rx="3.2" ry="2.4" fill="#e6d520"/><ellipse cx="763" cy="560.5" rx="3.4" ry="2.8" fill="#e6d520"/>
<ellipse cx="950" cy="664" rx="80" ry="4" fill="#8a8a8a" opacity="0.22" filter="url(#bl2)"/>
<path d="M1016 641 L1033 640 L1035 636 M862 648 L870 652" fill="none" stroke="#2a9a48" stroke-width="1.4" stroke-linecap="round"/>
<rect x="899.7" y="621.5" width="8.1" height="5" rx="1" fill="#22804a"/>
<rect x="900.0" y="620.8" width="7.5" height="1.8" rx="0.9" fill="#bfe3c8" opacity="0.9"/>
<rect x="909.2" y="621.5" width="8.1" height="5" rx="1" fill="#22804a"/>
<rect x="909.5" y="620.8" width="7.5" height="1.8" rx="0.9" fill="#bfe3c8" opacity="0.9"/>
<rect x="918.7" y="621.5" width="8.1" height="5" rx="1" fill="#22804a"/>
<rect x="919.0" y="620.8" width="7.5" height="1.8" rx="0.9" fill="#bfe3c8" opacity="0.9"/>
<rect x="928.2" y="621.5" width="8.1" height="5" rx="1" fill="#22804a"/>
<rect x="928.5" y="620.8" width="7.5" height="1.8" rx="0.9" fill="#bfe3c8" opacity="0.9"/>
<path d="M897 625 L937.5 624 L937.5 641 L897 646 Z" fill="url(#gd)"/>
<ellipse cx="878" cy="647" rx="12" ry="11" fill="#3a9f4a" opacity="0.55"/>
<rect x="874.7" y="612.8" width="10.1" height="4.2" rx="1" fill="#43b943"/>
<rect x="875.0" y="612.0999999999999" width="9.5" height="1.8" rx="0.9" fill="#8fdc88" opacity="0.9"/>
<rect x="886.2" y="612.8" width="10.1" height="4.2" rx="1" fill="#43b943"/>
<rect x="886.5" y="612.0999999999999" width="9.5" height="1.8" rx="0.9" fill="#8fdc88" opacity="0.9"/>
<path d="M872.5 615.5 L898 615 L898 626 L872.5 626 Z" fill="url(#gb)"/>
<path d="M867.5 623.5 L901 623 L901 652 L868 650 Z" fill="url(#gb)"/>
<path d="M868 638 L886 638 L886 651.5 L868 650 Z" fill="#2c8c3c" opacity="0.45"/>
<rect x="973.7" y="618.0" width="9.3" height="5.5" rx="1" fill="#22804a"/>
<rect x="974.0" y="617.3" width="8.8" height="1.8" rx="0.9" fill="#bfe3c8" opacity="0.9"/>
<rect x="984.5" y="618.0" width="9.3" height="5.5" rx="1" fill="#22804a"/>
<rect x="984.8" y="617.3" width="8.8" height="1.8" rx="0.9" fill="#bfe3c8" opacity="0.9"/>
<rect x="995.2" y="618.0" width="9.3" height="5.5" rx="1" fill="#22804a"/>
<rect x="995.5" y="617.3" width="8.8" height="1.8" rx="0.9" fill="#bfe3c8" opacity="0.9"/>
<rect x="1006.0" y="618.0" width="9.3" height="5.5" rx="1" fill="#22804a"/>
<rect x="1006.2" y="617.3" width="8.8" height="1.8" rx="0.9" fill="#bfe3c8" opacity="0.9"/>
<path d="M971 622 L1016.3 622.5 L1016.3 643.5 L971 643 Z" fill="url(#gd)"/>
<rect x="952.2" y="572.2" width="9.3" height="4" rx="1" fill="#43b943"/>
<rect x="952.5" y="571.5" width="8.8" height="1.8" rx="0.9" fill="#8fdc88" opacity="0.9"/>
<rect x="963.0" y="572.2" width="9.3" height="4" rx="1" fill="#43b943"/>
<rect x="963.2" y="571.5" width="8.8" height="1.8" rx="0.9" fill="#8fdc88" opacity="0.9"/>
<rect x="950.2" y="574.7" width="23.8" height="58" rx="1.5" fill="url(#gb)"/>
<rect x="961.6" y="574.7" width="1.2" height="20" fill="#2c9434" opacity="0.6"/>
<circle cx="932.0999999999999" cy="644.8" r="12.2" fill="#30a334"/>
<circle cx="933.3" cy="644.8" r="12.2" fill="url(#wh)"/>
<circle cx="933.5999999999999" cy="644.8" r="7.6" fill="#50cc4c" opacity="0.75"/>
<circle cx="933.8" cy="645.0999999999999" r="2.4" fill="#2a4a78"/>
<circle cx="958.5" cy="643.2" r="12.7" fill="#30a334"/>
<circle cx="959.7" cy="643.2" r="12.7" fill="url(#wh)"/>
<circle cx="960.0" cy="643.2" r="7.9" fill="#50cc4c" opacity="0.75"/>
<circle cx="960.2" cy="643.5" r="2.5" fill="#2a4a78"/>
<circle cx="999.5999999999999" cy="645.8" r="12.9" fill="#30a334"/>
<circle cx="1000.8" cy="645.8" r="12.9" fill="url(#wh)"/>
<circle cx="1001.0999999999999" cy="645.8" r="8.0" fill="#50cc4c" opacity="0.75"/>
<circle cx="1001.3" cy="646.0999999999999" r="2.6" fill="#2a4a78"/>
<circle cx="898.0999999999999" cy="653.4" r="13.8" fill="#30a334"/>
<circle cx="899.3" cy="653.4" r="13.8" fill="url(#wh)"/>
<circle cx="899.5999999999999" cy="653.4" r="8.6" fill="#50cc4c" opacity="0.75"/>
<circle cx="899.8" cy="653.6999999999999" r="2.8" fill="#2a4a78"/>
<path d="M900.8 615 C907 600 925 588 945.5 578" fill="none" stroke="#10703f" stroke-width="2.2" stroke-linecap="round"/>
<path d="M938.5 576 L947 577.5 L944 586" fill="none" stroke="#10703f" stroke-width="2.2" stroke-linecap="round" stroke-linejoin="round"/>
<path d="M878.7 589.3 C893 573 922 556 953 546.5" fill="none" stroke="#e6d520" stroke-width="1.8" stroke-linecap="round"/>
<ellipse cx="879" cy="589.5" rx="3.2" ry="2.4" fill="#e6d520"/><ellipse cx="953" cy="546" rx="3.4" ry="2.8" fill="#e6d520"/>
<g transform="translate(638.1,684.0) scale(1.16,0.97)"><rect x="3" y="0" width="6" height="4" rx="1" fill="#45b845"/><rect x="11" y="0" width="6" height="4" rx="1" fill="#45b845"/><path d="M0 5 L8 3 L10 7 L12 3 L20 4 L20.5 20 L1 22 Z" fill="url(#gb)"/></g>
<g transform="translate(640,710)" fill="#e3cf1e" stroke="#e3cf1e"><circle cx="3" cy="3" r="2.6" stroke="none"/><path d="M3 3 L20 -1.5" stroke-width="1.5" fill="none"/><path d="M17 -4 L24 -3 L23.5 1 L18 1 Z" stroke="none"/></g>
<g transform="translate(844.5,683.0) scale(1.16,0.97)"><rect x="3" y="0" width="6" height="4" rx="1" fill="#45b845"/><rect x="11" y="0" width="6" height="4" rx="1" fill="#45b845"/><path d="M0 5 L8 3 L10 7 L12 3 L20 4 L20.5 20 L1 22 Z" fill="url(#gb)"/></g>
<g transform="translate(846.5,710)" fill="#e3cf1e" stroke="#e3cf1e"><circle cx="3" cy="3" r="2.6" stroke="none"/><path d="M3 3 L20 -1.5" stroke-width="1.5" fill="none"/><path d="M17 -4 L24 -3 L23.5 1 L18 1 Z" stroke="none"/></g>
</svg>
<div class="lbl" style="left:659.4px;top:128px;color:#d3cb22;font-size:7.5px;transform:translate(0,-50%)">4 735.8</div>
<div class="lbl" style="left:766.8px;top:120.9px;color:#d3cb22;font-size:7.5px;transform:translate(0,-50%)">5 080.5</div>
<div class="lbl " style="left:719.5px;top:118.3px;color:#0f7a48;font-size:7px;transform:translate(-50%,-50%) rotate(-10deg)">+7%</div>
<div class="yr" style="left:694px;top:256.3px">2006</div>
<div class="yr" style="left:750.7px;top:243.5px">2007</div>
<div class="lbl" style="left:668.6px;top:275px;color:#d3cb22;font-size:5.9px;transform:translate(0,-50%)">Installed capacity, thousand lines</div>
<div class="lbl" style="left:843.7px;top:190.4px;color:#d3cb22;font-size:7.5px;transform:translate(0,-50%)">121.9</div>
<div class="lbl" style="left:956.8px;top:154.2px;color:#d3cb22;font-size:7.6px;transform:translate(0,-50%)">466.0</div>
<div class="lbl " style="left:894px;top:169.5px;color:#0f7a48;font-size:7.8px;transform:translate(-50%,-50%) rotate(-40deg)">3,8 times</div>
<div class="yr" style="left:884px;top:245.9px">2006</div>
<div class="yr" style="left:937.5px;top:244.8px">2007</div>
<div class="lbl" style="left:863.9px;top:275px;color:#d3cb22;font-size:5.8px;transform:translate(0,-50%)">Installed xDSL capacity, thousand lines</div>
<div class="lbl" style="left:657.8px;top:375px;color:#f08c1e;font-size:7.5px;transform:translate(0,-50%)">1 841.7</div>
<div class="lbl" style="left:796.5px;top:343px;color:#f08c1e;font-size:7.5px;transform:translate(0,-50%)">2 898.1</div>
<div class="lbl " style="left:736.3px;top:351.6px;color:#0f7a48;font-size:7.3px;transform:translate(-50%,-50%) rotate(-15deg)">+57%</div>
<div class="yr" style="left:690px;top:468.0px">2006</div>
<div class="yr" style="left:781.5px;top:472.5px">2007</div>
<div class="lbl" style="left:686.5px;top:497.5px;color:#f08c1e;font-size:5.78px;transform:translate(0,-50%)">Revenue from value added services, RUR</div>
<div class="lbl" style="left:886.6px;top:404.4px;color:#f08c1e;font-size:7.5px;transform:translate(0,-50%)">91</div>
<div class="lbl" style="left:976.4px;top:340px;color:#f08c1e;font-size:7.5px;transform:translate(0,-50%)">310</div>
<div class="lbl " style="left:920.3px;top:366px;color:#0f7a48;font-size:8px;transform:translate(-50%,-50%) rotate(-50deg)">3,4 times</div>
<div class="yr" style="left:902.5px;top:477.0px">2006</div>
<div class="yr" style="left:962.7px;top:470.7px">2007</div>
<div class="lbl" style="left:862.8px;top:497.5px;color:#f08c1e;font-size:5.7px;transform:translate(0,-50%)">Number of subscribers, thousand</div>
<div class="lbl" style="left:669px;top:607.8px;color:#0f7a48;font-size:7.8px;transform:translate(0,-50%)">2 426</div>
<div class="lbl" style="left:757px;top:576.4px;color:#0f7a48;font-size:7.8px;transform:translate(0,-50%)">11 305</div>
<div class="lbl " style="left:717px;top:594.7px;color:#0f7a48;font-size:8.3px;transform:translate(-50%,-50%) rotate(-20deg)">4,7 times</div>
<div class="lbl " style="left:677px;top:582.4px;color:#dccb1a;font-size:6.5px;transform:translate(-50%,-50%) rotate(-35deg)">12%</div>
<div class="lbl " style="left:764px;top:550px;color:#dccb1a;font-size:6.5px;transform:translate(-50%,-50%) rotate(0deg)">48%</div>
<div class="lbl " style="left:714.2px;top:566px;color:#dccb1a;font-size:7px;transform:translate(-50%,-50%) rotate(-20deg)">+36 b.p.</div>
<div class="yr" style="left:682px;top:676.5px">2006</div>
<div class="yr" style="left:768.6px;top:680.0px">2007</div>
<div class="lbl" style="left:670.4px;top:698.6px;color:#0f7a48;font-size:6px;transform:translate(0,-50%)">Netprofit RUR mln</div>
<div class="lbl" style="left:670.4px;top:708.7px;color:#dccb1a;font-size:6px;transform:translate(0,-50%)">Netprofit margin, %</div>
<div class="lbl" style="left:873px;top:603px;color:#0f7a48;font-size:7.8px;transform:translate(0,-50%)">6 658</div>
<div class="lbl" style="left:951px;top:563.3px;color:#0f7a48;font-size:7.8px;transform:translate(0,-50%)">18 551</div>
<div class="lbl " style="left:916.5px;top:586px;color:#0f7a48;font-size:8.3px;transform:translate(-50%,-50%) rotate(-40deg)">2,8 times</div>
<div class="lbl " style="left:871.3px;top:582.4px;color:#dccb1a;font-size:6.5px;transform:translate(-50%,-50%) rotate(-40deg)">33%</div>
<div class="lbl " style="left:953px;top:536.8px;color:#dccb1a;font-size:6.5px;transform:translate(-50%,-50%) rotate(0deg)">79%</div>
<div class="lbl " style="left:905.5px;top:560px;color:#dccb1a;font-size:7px;transform:translate(-50%,-50%) rotate(-30deg)">+46 b.p.</div>
<div class="yr" style="left:886.4px;top:673.8px">2006</div>
<div class="yr" style="left:959.6px;top:669.7px">2007</div>
<div class="lbl" style="left:876.5px;top:698.6px;color:#0f7a48;font-size:5.75px;transform:translate(0,-50%)">EBITDA, RUR mln</div>
<div class="lbl" style="left:876.5px;top:707.9px;color:#dccb1a;font-size:5.6px;transform:translate(0,-50%)">EBITDA margin, %</div>
</body></html>
